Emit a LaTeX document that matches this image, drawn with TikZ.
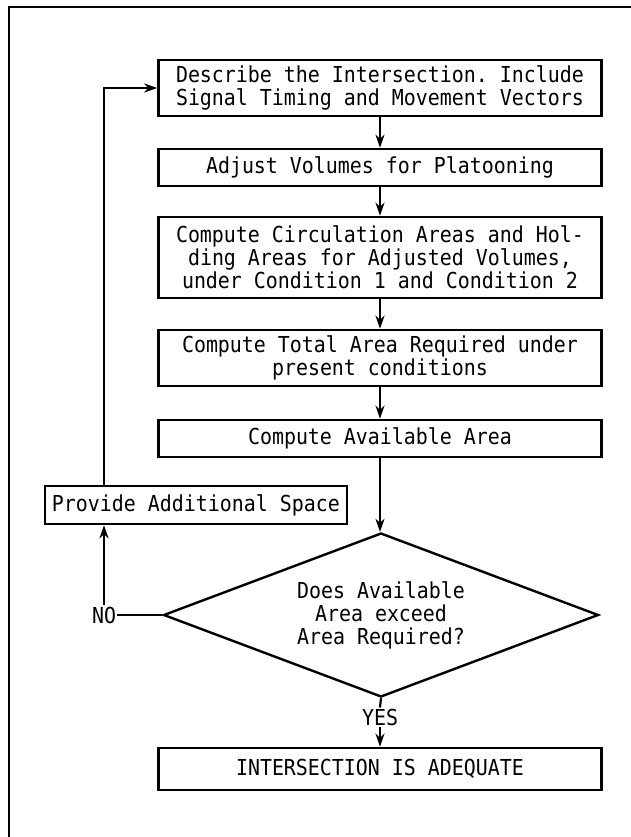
\documentclass[tikz,border=0pt]{standalone}
\usepackage{fontspec}
\setmonofont[FakeStretch=0.906]{DejaVu Sans Mono}
\usetikzlibrary{arrows.meta,shapes.geometric,calc}
\begin{document}
\begin{tikzpicture}[x=1pt,y=-1pt,
  txt/.style={font=\ttfamily\fontsize{22}{23}\selectfont},
  stepbox/.style={txt, draw, line width=2.6pt, minimum width=443pt,
    inner sep=0pt, align=center},
  sidebox/.style={txt, draw, line width=2.6pt, minimum width=302pt,
    inner sep=0pt, align=center},
  decision/.style={txt, draw, diamond, line width=2.4pt, aspect=2.65,
    minimum width=435pt, minimum height=164pt, inner sep=0pt, align=center},
  tag/.style={txt, inner sep=1pt},
  flow/.style={line width=2.2pt, -{Stealth[length=13pt,width=9pt,inset=4pt]}},
  link/.style={line width=2.2pt},
  frame/.style={line width=2.8pt}
]
\useasboundingbox (0,0) rectangle (631,837);

% outer frame (top and left edges)
\draw[frame] (9,837) -- (9,7) -- (631,7);

% process steps
\node[stepbox, minimum height=56pt] (b1) at (380,88)
  {Describe the Intersection. Include\\Signal Timing and Movement Vectors};
\node[stepbox, minimum height=37pt] (b2) at (380,167.5)
  {Adjust Volumes for Platooning};
\node[stepbox, minimum height=81pt] (b3) at (380,257.5)
  {Compute Circulation Areas and Hol-\\ding Areas for Adjusted Volumes,\\under Condition 1 and Condition 2};
\node[stepbox, minimum height=56pt] (b4) at (380,358)
  {Compute Total Area Required under\\present conditions};
\node[stepbox, minimum height=37pt] (b5) at (380,438.5)
  {Compute Available Area};
\node[sidebox, minimum height=38pt] (b6) at (196,505)
  {Provide Additional Space};
\node[decision] (dia) at (381,615)
  {Does Available\\Area exceed\\Area Required?};
\node[stepbox, minimum height=42pt] (fin) at (380,769)
  {INTERSECTION IS ADEQUATE};

% branch labels
\node[tag] (no) at (104,615) {NO};
\node[tag] (yes) at (380,717) {YES};

% main flow
\draw[flow] (b1) -- (b2);
\draw[flow] (b2) -- (b3);
\draw[flow] (b3) -- (b4);
\draw[flow] (b4) -- (b5);
\draw[flow] (b5) -- (dia.north -| b5.south);

% NO branch and feedback loop
\draw[link] (dia.west) -- (no.east);
\draw[flow] (no.north) -- (no.north |- b6.south);
\coordinate (loopx) at (104,0);
\draw[flow] (b6.north -| loopx) |- (b1.west);

% YES branch
\draw[link] (dia.south) -- (yes.north);
\draw[flow] (yes.south) -- (fin.north);
\end{tikzpicture}
\end{document}
